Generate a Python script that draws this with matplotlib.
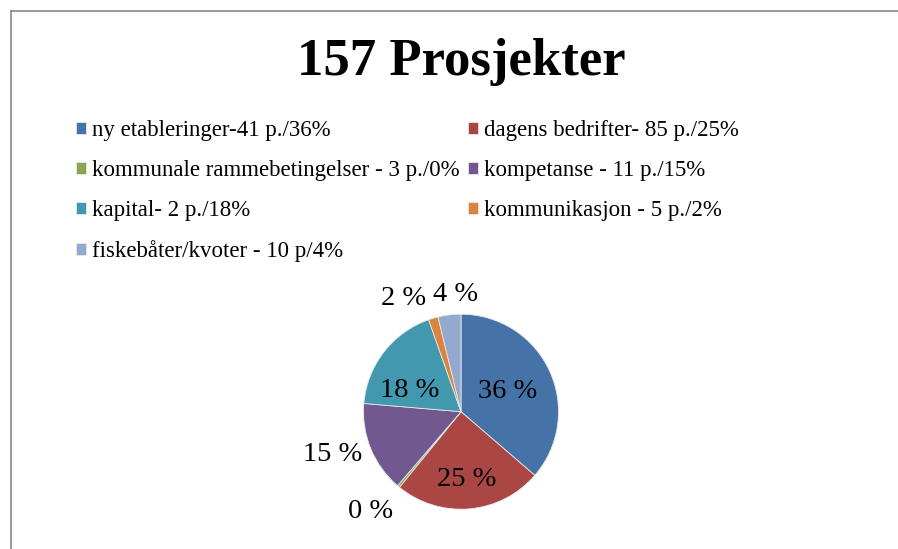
import numpy as np
import matplotlib.pyplot as plt
from matplotlib.lines import Line2D

# data
labels = ["ny etableringer-41 p./36%", "dagens bedrifter- 85 p./25%",
          "kommunale rammebetingelser - 3 p./0%", "kompetanse - 11 p./15%",
          "kapital- 2 p./18%", "kommunikasjon - 5 p./2%",
          "fiskebåter/kvoter - 10 p/4%"]
shares = [36.4, 24.6, 0.4, 15.1, 18.3, 1.6, 3.8]
colors = ["#4572A7", "#AA4643", "#89A54E", "#71588F", "#4198AF", "#DB843D", "#93A9CF"]

# label placement (radius as fraction of pie radius, angle shift in degrees)
lab_r = [0.54, 0.67, 1.36, 1.38, 0.58, 1.33, 1.23]
lab_shift = [2, 0, -3, -5, 12, 10, -4]

plt.rcParams["font.family"] = ["Liberation Serif", "DejaVu Serif"]

W, H = 898, 549
fig = plt.figure(figsize=(W / 100, H / 100), dpi=100)

# pie placed by pixel centre / radius
cx, cy, r = 461, 411.7, 97.5
ax = fig.add_axes([(cx - r) / W, (H - cy - r) / H, 2 * r / W, 2 * r / H])
wedges, _ = ax.pie(shares, colors=colors, startangle=90, counterclock=False,
                   radius=1, wedgeprops=dict(linewidth=0.6, edgecolor="#e8e8e8"))
ax.set_xlim(-1, 1)
ax.set_ylim(-1, 1)
ax.axis("off")

total = sum(shares)
for w, s, rr, sh in zip(wedges, shares, lab_r, lab_shift):
    mid = np.deg2rad((w.theta1 + w.theta2) / 2 + sh)
    ax.text(rr * np.cos(mid), rr * np.sin(mid), "%.0f %%" % (100 * s / total),
            ha="center", va="center_baseline", fontsize=20.5, clip_on=False)

fig.text(461 / W, 1 - 62 / H, "157 Prosjekter", ha="center", va="center",
         fontsize=38, fontweight="bold")

order = [0, 2, 4, 6, 1, 3, 5]
fig.legend([wedges[i] for i in order], [labels[i] for i in order], ncol=2,
           loc="upper left", bbox_to_anchor=(76 / W, 1 - 120 / H), frameon=False,
           fontsize=16.5, handlelength=0.45, handleheight=0.45, handletextpad=0.25,
           labelspacing=0.83, columnspacing=0.35, borderpad=0, borderaxespad=0)

# frame lines
fig.add_artist(Line2D([11 / W, 11 / W], [0, 1 - 11 / H], color="#878787", lw=1.2))
fig.add_artist(Line2D([11 / W, 1], [1 - 11 / H, 1 - 11 / H], color="#878787", lw=1.2))

fig.savefig("out.png", dpi=100)
